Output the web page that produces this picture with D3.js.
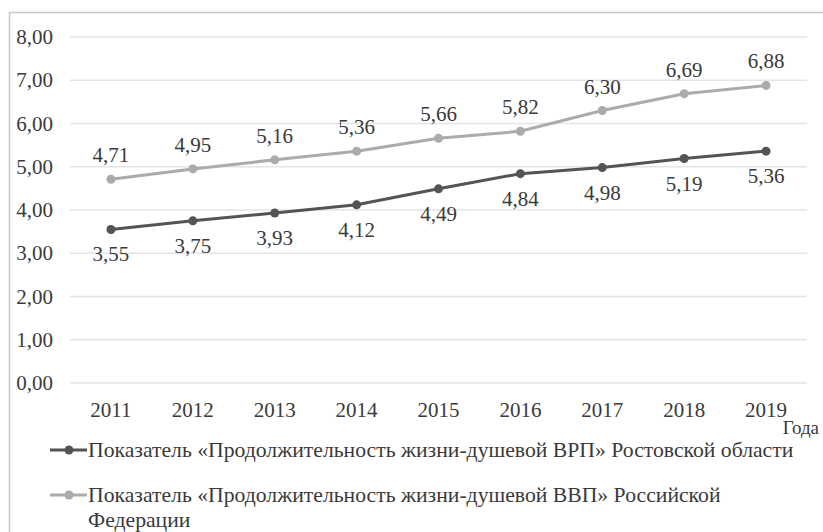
<!DOCTYPE html>
<html><head><meta charset="utf-8">
<script src="https://cdn.jsdelivr.net/npm/d3@7"></script>
</head><body style="margin:0"><svg id="c" width="823" height="532"></svg>
<script>
const years = ["2011","2012","2013","2014","2015","2016","2017","2018","2019"];
const rostov = [3.55,3.75,3.93,4.12,4.49,4.84,4.98,5.19,5.36];
const russia = [4.71,4.95,5.16,5.36,5.66,5.82,6.30,6.69,6.88];
const yTicks = [0,1,2,3,4,5,6,7,8];
const seriesNames = ["Показатель «Продолжительность жизни-душевой ВРП» Ростовской области",
  "Показатель «Продолжительность жизни-душевой ВВП» Российской"];
const seriesNames2 = ["", "Федерации"];
const axisTitle = "Года";

const svg = d3.select("#c");
const FF = "Liberation Serif";
const fs = 21, lfs = 21.7, tc = "#3a3a3a";
const T = sel => sel.attr("font-family",FF).attr("fill",tc);
svg.append("rect").attr("x",9.5).attr("y",12.5).attr("width",830).attr("height",530)
  .attr("fill","none").attr("stroke","#c8c8c8").attr("stroke-width",1.5);

const x = d3.scalePoint().domain(years).range([70,807]).padding(0.5);
const y = d3.scaleLinear().domain([0,8]).range([383,37]);
const fmt = v => d3.format(".2f")(v).replace(".",",");

svg.append("g").selectAll("line").data(yTicks).join("line")
  .attr("x1",70).attr("x2",807).attr("y1",d=>y(d)).attr("y2",d=>y(d))
  .attr("stroke","#e4e4e4").attr("stroke-width",1.5);
svg.append("g").selectAll("text").data(yTicks).join("text")
  .attr("x",53).attr("y",d=>y(d)+7).attr("text-anchor","end")
  .attr("font-size",fs).call(T).text(d=>fmt(d));
svg.append("g").selectAll("text").data(years).join("text")
  .attr("x",d=>x(d)).attr("y",417).attr("text-anchor","middle")
  .attr("font-size",fs).call(T).text(d=>d);
svg.append("text").attr("x",819).attr("y",434).attr("text-anchor","end")
  .attr("font-size",19).call(T).text(axisTitle);

const series = [
  {vals:rostov,color:"#545454",off:25},
  {vals:russia,color:"#ababab",off:-24}
];
const line = d3.line().x((d,i)=>x(years[i])).y(d=>y(d));
series.forEach(s=>{
  svg.append("path").datum(s.vals).attr("d",line).attr("fill","none")
    .attr("stroke",s.color).attr("stroke-width",3);
  svg.append("g").selectAll("circle").data(s.vals).join("circle")
    .attr("cx",(d,i)=>x(years[i])).attr("cy",d=>y(d)).attr("r",4.5).attr("fill",s.color);
  svg.append("g").selectAll("text").data(s.vals).join("text")
    .attr("x",(d,i)=>x(years[i])).attr("y",d=>y(d)+s.off+7)
    .attr("text-anchor","middle").attr("font-size",fs).call(T).text(d=>fmt(d));
});

const legY = [450,495];
series.forEach((s,i)=>{
  svg.append("line").attr("x1",50).attr("x2",87).attr("y1",legY[i]).attr("y2",legY[i])
    .attr("stroke",s.color).attr("stroke-width",3);
  svg.append("circle").attr("cx",69).attr("cy",legY[i]).attr("r",4.5).attr("fill",s.color);
  svg.append("text").attr("x",88).attr("y",legY[i]+7).attr("font-size",lfs).call(T).text(seriesNames[i]);
  if(seriesNames2[i]) svg.append("text").attr("x",88).attr("y",legY[i]+32).attr("font-size",lfs).call(T).text(seriesNames2[i]);
});
</script></body></html>
